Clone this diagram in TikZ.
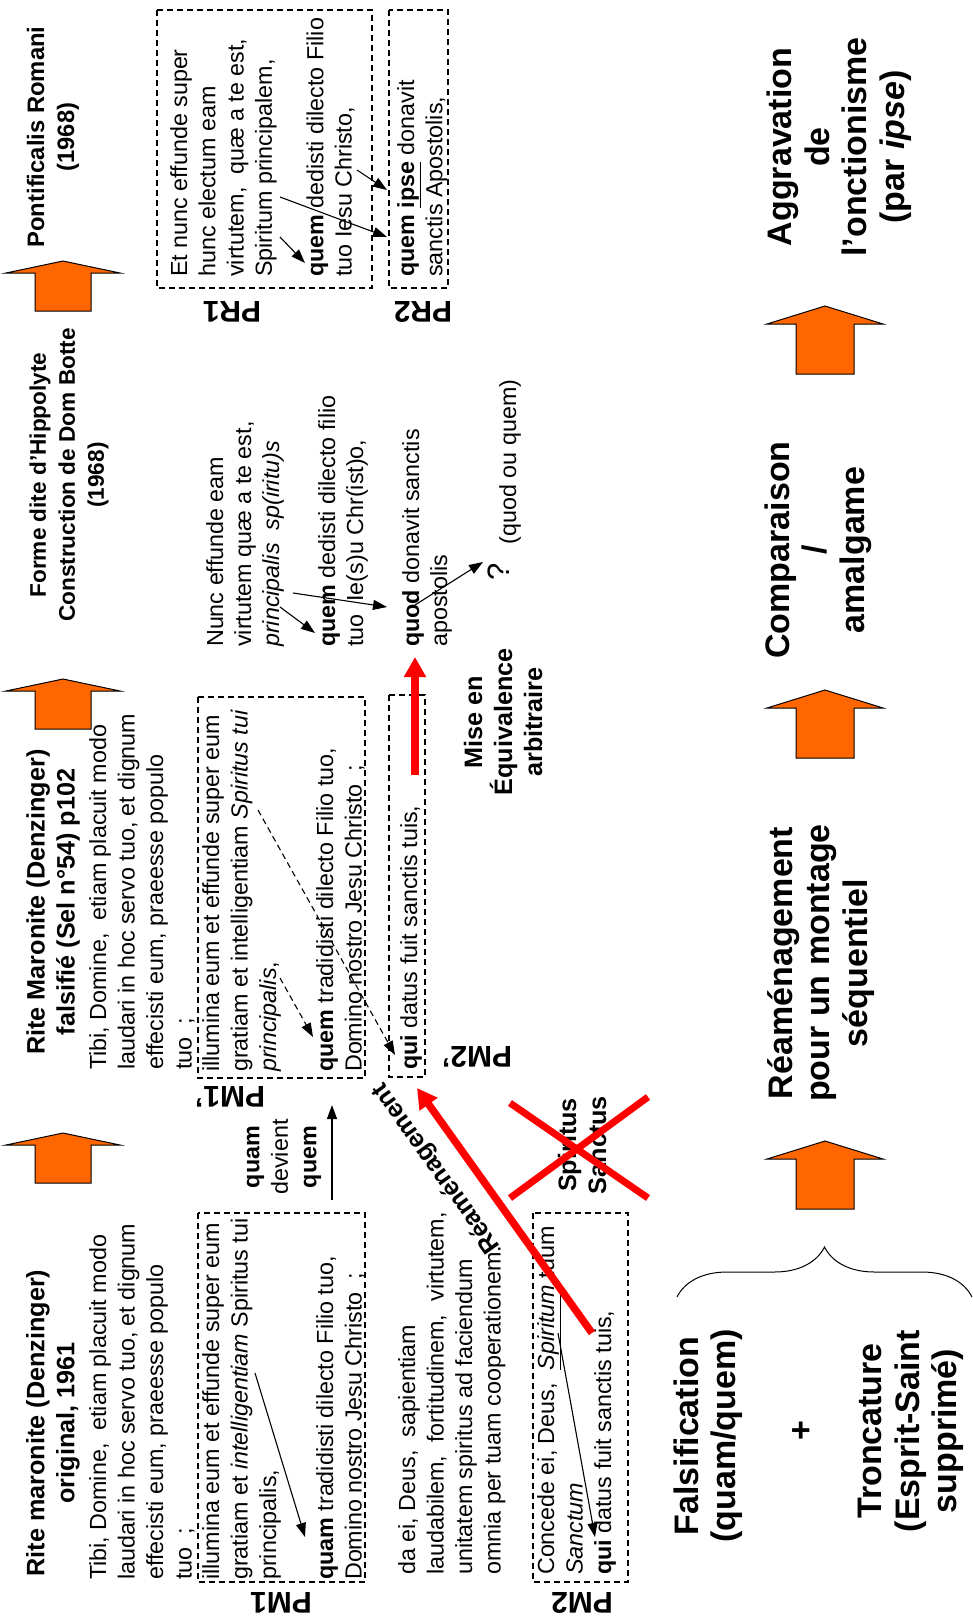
\documentclass[tikz,border=0pt]{standalone}
\usepackage{fontspec}
\setmainfont{Liberation Sans}
\usetikzlibrary{arrows.meta,decorations.pathreplacing}

\definecolor{orangeA}{RGB}{255,102,0}
\newcommand\bodyfnt{\fontsize{23.3}{28.5}\selectfont}
\newcommand\titlefnt{\fontsize{25.2}{30}\selectfont\bfseries}
\newcommand\bigfnt{\fontsize{34}{37.5}\selectfont\bfseries}
\newcommand\labfnt{\fontsize{30}{36}\selectfont\bfseries}

\tikzset{
  txt/.style={align=left, inner sep=0pt, anchor=north west, rotate=90, font=\bodyfnt},
  ttl/.style={align=center, inner sep=0pt, rotate=90, font=\titlefnt},
  big/.style={align=center, inner sep=0pt, rotate=90, font=\bigfnt},
  lab/.style={inner sep=0pt, rotate=180, font=\labfnt},
  dbox/.style={draw, line width=1.2pt, dash pattern=on 6pt off 4pt},
  link/.style={line width=1.1pt, -{Triangle[length=14pt,width=10pt]}},
  dlink/.style={link, dash pattern=on 6pt off 4pt},
  redarr/.style={red, line width=7.5pt, -{Triangle[length=20pt,width=21pt]}},
  cross/.style={red, line width=7pt},
  blockarr/.style={fill=orangeA, draw=black, line width=1pt}
}

\begin{document}
\begin{tikzpicture}[x=1pt,y=-1pt]
  \useasboundingbox (0,0) rectangle (972,1619);

  % orange arrows, top row and bottom row
  \foreach \ty in {1133,679,261}
    \draw[blockarr] (63,\ty) -- (120,{\ty+12}) -- (91,{\ty+12}) -- (91,{\ty+50})
      -- (35,{\ty+50}) -- (35,{\ty+12}) -- (6,{\ty+12}) -- cycle;
  \foreach \ty in {1141,690,306}
    \draw[blockarr] (825,\ty) -- (883,{\ty+18}) -- (854,{\ty+18}) -- (854,{\ty+68})
      -- (796,{\ty+68}) -- (796,{\ty+18}) -- (767,{\ty+18}) -- cycle;

  % titles
  \node[ttl] (maroorig) at (53,1423) {Rite maronite (Denzinger)\\original, 1961};
  \node[ttl] (marofals) at (53,902) {Rite Maronite (Denzinger)\\falsifié (Sel n°54) p102};
  \node[ttl, font=\fontsize{22.6}{29}\selectfont\bfseries] (hippo) at (69,475) {Forme dite d’Hippolyte\\Construction de Dom Botte\\(1968)};
  \node[ttl, font=\fontsize{23.8}{30}\selectfont\bfseries] (pontif) at (53,137) {Pontificalis Romani\\(1968)};

  % Maronite original
  \node[txt] (tibi1) at (89,1580) {Tibi, Domine,\ \ etiam placuit modo\\laudari in hoc servo tuo, et dignum\\effecisti eum, praeesse populo\\tuo\ \ ;};
  \draw[dbox] (198,1213) rectangle (365,1582);
  \node[txt] (pm1txt) at (202,1580) {illumina eum et effunde super eum\\gratiam et \emph{intelligentiam} Spiritus tui\\principalis,\\[28.5pt]\textbf{quam} tradidisti dilecto Filio tuo,\\Domino nostro Jesu Christo\ \ ;};
  \node[lab] (pm1) at (281,1603) {PM1};
  \coordinate (intel) at (255,1373);
  \coordinate (quam1) at (305,1537);
  \draw[link] (intel) -- (quam1);
  % - second part
  \node[txt] (daei) at (398,1575) {da ei, Deus,\ \ sapientiam\\laudabilem,\ \ fortitudinem,\ \ virtutem,\\unitatem spiritus ad faciendum\\omnia per tuam cooperationem.};
  \draw[dbox] (533,1213) rectangle (628,1582);
  \node[txt] (pm2txt) at (537,1575) {Concede ei, Deus,\ \ \underline{\emph{Spiritum}} tuum\\\emph{Sanctum}\\\textbf{qui} datus fuit sanctis tuis,};
  \node[lab] (pm2) at (582,1603) {PM2};
  \coordinate (spir2) at (558,1333);
  \coordinate (qui2) at (595,1537);
  \draw[link] (spir2) -- (qui2);

  % quam devient quem
  \node[align=center, inner sep=0pt, rotate=90, font=\bodyfnt] (devient) at (284,1157) {\textbf{quam}\\devient\\\textbf{quem}};
  \coordinate (dvA) at (332,1200);
  \coordinate (dvB) at (332,1105);
  \draw[link] (dvA) -- (dvB);

  % Spiritus Sanctus crossed out
  \node[ttl] (spsanct) at (582,1145) {Spiritus\\Sanctus};
  \coordinate (xA) at (510,1103);
  \coordinate (xB) at (648,1198);
  \coordinate (xC) at (510,1198);
  \coordinate (xD) at (648,1097);
  \draw[cross] (xA) -- (xB);
  \draw[cross] (xC) -- (xD);

  % Reamenagement
  \coordinate (reA) at (592,1333);
  \coordinate (reB) at (417,1088);
  \draw[redarr] (reA) -- (reB);
  \node[rotate=125.5, inner sep=0pt, font=\titlefnt] (reamen) at (437,1168) {Réaménagement};

  % Maronite falsifie
  \node[txt] (tibi2) at (89,1070) {Tibi, Domine,\ \ etiam placuit modo\\laudari in hoc servo tuo, et dignum\\effecisti eum, praeesse populo\\tuo\ \ ;};
  \draw[dbox] (198,697) rectangle (365,1078);
  \node[txt] (pm1ptxt) at (202,1072) {illumina eum et effunde super eum\\gratiam et intelligentiam \emph{Spiritus tui}\\\emph{principalis},\\[28.5pt]\textbf{quem} tradidisti dilecto Filio tuo,\\Domino nostro Jesu Christo\ \ ;};
  \node[lab] (pm1p) at (230,1097) {PM1’};
  \draw[dbox] (389,695) rectangle (425,1077);
  \node[txt] (pm2ptxt) at (400,1070) {\textbf{qui} datus fuit sanctis tuis,};
  \node[lab] (pm2p) at (477,1057) {PM2’};
  \coordinate (princ2) at (280,978);
  \coordinate (quem2) at (313,1037);
  \coordinate (spir3) at (258,810);
  \coordinate (qui3) at (395,1055);
  \draw[dlink] (princ2) -- (quem2);
  \draw[dlink] (spir3) -- (qui3);

  % Mise en equivalence
  \node[ttl] (mise) at (503,722) {Mise en\\Équivalence\\arbitraire};
  \coordinate (eqA) at (415,775);
  \coordinate (eqB) at (415,657);
  \draw[redarr] (eqA) -- (eqB);

  % Hippolyte
  \node[txt, font=\fontsize{23.3}{28}\selectfont] (nunc) at (206,647) {Nunc effunde eam\\virtutem quæ a te est,\\\emph{principalis}\ \ \emph{sp(iritu)s}\\[28pt]\textbf{quem} dedisti dilecto filio\\tuo\ \ Ie(s)u Chr(ist)o,\\[28pt]\textbf{quod} donavit sanctis\\apostolis};
  \coordinate (princ3) at (280,607);
  \coordinate (quem3) at (315,633);
  \coordinate (dedi3) at (293,593);
  \coordinate (quod3) at (387,607);
  \coordinate (quodB) at (415,605);
  \coordinate (quest3) at (483,562);
  \draw[link] (princ3) -- (quem3);
  \draw[link] (dedi3) -- (quod3);
  \draw[link] (quodB) -- (quest3);
  \node[rotate=90, inner sep=0pt, font=\fontsize{31}{31}\selectfont] (quest) at (499,572) {?};
  \node[rotate=90, inner sep=0pt, font=\bodyfnt] (quodquem) at (510,462) {(quod ou quem)};

  % Pontificalis Romani
  \draw[dbox] (157,10) rectangle (372,288);
  \node[txt, font=\fontsize{23.3}{28.3}\selectfont] (etnunc) at (170,277) {Et nunc effunde super\\hunc electum eam\\virtutem,\ \ quæ a te est,\\Spiritum principalem,\\[23pt]\textbf{quem} dedisti dilecto Filio\\tuo Iesu Christo,};
  \node[lab] (pr1) at (232,312) {PR1};
  \draw[dbox] (389,10) rectangle (448,288);
  \node[txt, font=\fontsize{23.3}{28.3}\selectfont] (quemipse) at (397,277) {\textbf{quem} \textbf{\underline{ipse}} donavit\\sanctis Apostolis,};
  \node[lab] (pr2) at (423,312) {PR2};
  \coordinate (spirR) at (280,237);
  \coordinate (quemR) at (305,263);
  \coordinate (spirR2) at (280,197);
  \coordinate (quemR2) at (387,237);
  \coordinate (chrR) at (357,170);
  \coordinate (ipseR) at (387,190);
  \draw[link] (spirR) -- (quemR);
  \draw[link] (spirR2) -- (quemR2);
  \draw[link] (chrR) -- (ipseR);

  % bottom row
  \node[big] (falsif) at (708,1436) {Falsification\\(quam/quem)};
  \node[big] (plus) at (803,1431) {+};
  \node[big] (tronc) at (911,1431) {Troncature\\(Esprit-Saint\\supprimé)};
  \coordinate (brA) at (677,1297);
  \coordinate (brB) at (972,1297);
  \draw[line width=1pt, decorate, decoration={brace, amplitude=50pt}] (brA) -- (brB);
  \node[big] (reamseq) at (821,963) {Réaménagement\\pour un montage\\séquentiel};
  \node[big] (compar) at (818,550) {Comparaison\\/\\amalgame};
  \node[big] (aggrav) at (839,147) {Aggravation\\de\\l’onctionisme\\(par \emph{ipse})};
\end{tikzpicture}
\end{document}
